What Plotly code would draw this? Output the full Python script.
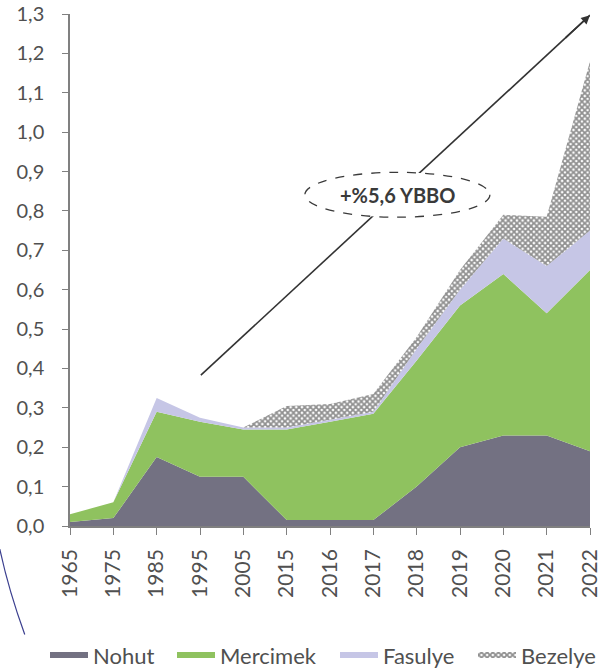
import plotly.graph_objects as go

years = ["1965", "1975", "1985", "1995", "2005", "2015", "2016", "2017", "2018", "2019", "2020", "2021", "2022"]
nohut = [0.01, 0.02, 0.175, 0.125, 0.125, 0.015, 0.015, 0.015, 0.10, 0.20, 0.23, 0.23, 0.19]
mercimek = [0.02, 0.04, 0.115, 0.14, 0.12, 0.23, 0.25, 0.27, 0.32, 0.36, 0.41, 0.31, 0.46]
fasulye = [0.0, 0.0, 0.035, 0.01, 0.005, 0.005, 0.005, 0.005, 0.03, 0.04, 0.09, 0.12, 0.10]
bezelye = [0.0, 0.0, 0.0, 0.0, 0.0, 0.055, 0.04, 0.045, 0.03, 0.05, 0.06, 0.125, 0.43]
y_ticks = [0.0, 0.1, 0.2, 0.3, 0.4, 0.5, 0.6, 0.7, 0.8, 0.9, 1.0, 1.1, 1.2, 1.3]
cagr_label = "+%5,6 YBBO"

FONT = "Lato"
TXT = "#505050"
AX = "#808080"

fig = go.Figure()
fig.add_trace(go.Scatter(x=years, y=nohut, name="Nohut", stackgroup="s", mode="none",
                         fillcolor="#737182", legend="legend"))
fig.add_trace(go.Scatter(x=years, y=mercimek, name="Mercimek", stackgroup="s", mode="none",
                         fillcolor="#8fc25f", legend="legend2"))
fig.add_trace(go.Scatter(x=years, y=fasulye, name="Fasulye", stackgroup="s", mode="none",
                         fillcolor="#c6c6e6", legend="legend3"))
fig.add_trace(go.Scatter(x=years, y=bezelye, name="Bezelye", stackgroup="s", mode="none",
                         fillcolor="white", legend="legend4",
                         fillpattern=dict(shape="x", fgcolor="#222222", bgcolor="white",
                                          size=4, solidity=0.7)))

# trend arrow (line as shape so the ellipse can sit on top of it)
tail = (3.02, 0.383)
head = (12.0, 1.297)
fig.add_shape(type="line", xref="x", yref="y", x0=tail[0], y0=tail[1], x1=head[0], y1=head[1],
              line=dict(color="#333333", width=1.6), layer="above")
fig.add_shape(type="circle", xref="x", yref="y", x0=5.42, x1=9.69, y0=0.784, y1=0.898,
              line=dict(color="#3a3a3a", width=1.3, dash="dash"), fillcolor="white", layer="above")
slope = (head[1] - tail[1]) / (head[0] - tail[0])
fig.add_annotation(x=head[0], y=head[1], ax=head[0] - 0.6, ay=head[1] - 0.6 * slope,
                   xref="x", yref="y", axref="x", ayref="y",
                   text="", showarrow=True, arrowhead=2, arrowsize=1.1, arrowwidth=1.6,
                   arrowcolor="#333333")
fig.add_annotation(x=7.55, y=0.841, xref="x", yref="y", text="<b>" + cagr_label + "</b>",
                   showarrow=False, font=dict(family=FONT, size=20, color="#3a3a3a"))

# stray curve at bottom-left
fig.add_shape(type="path", xref="paper", yref="paper",
              path="M -0.135 -0.045 Q -0.118 -0.125 -0.087 -0.212",
              line=dict(color="#3b3f8f", width=1.2))


def leg(xpx):
    return dict(orientation="h", xref="container", yref="container",
                x=xpx / 600, xanchor="left", y=0.025, yanchor="middle",
                font=dict(family=FONT, size=22, color=TXT), itemwidth=38,
                bgcolor="rgba(0,0,0,0)")


fig.update_layout(
    width=600, height=672,
    margin=dict(l=70, r=10, t=14, b=146),
    paper_bgcolor="white", plot_bgcolor="white",
    separators=",.",
    font=dict(family=FONT, size=20, color=TXT),
    showlegend=True,
    legend=leg(45), legend2=leg(172), legend3=leg(335), legend4=leg(473),
    xaxis=dict(type="category", range=[0, 12], showgrid=False, showline=True,
               linecolor=AX, linewidth=1.5, ticks="outside", ticklen=7,
               tickcolor=AX, tickangle=-90, automargin=False, ticklabelstandoff=6,
               tickfont=dict(family=FONT, size=21, color=TXT)),
    yaxis=dict(range=[0, 1.3], tickvals=y_ticks, tickformat=".1f", showgrid=False,
               showline=True, linecolor=AX, linewidth=1.5, ticks="outside",
               ticklen=6, tickcolor=AX, zeroline=False, automargin=False,
               ticklabelstandoff=14,
               tickfont=dict(family=FONT, size=20, color=TXT)),
)

fig.write_html("out.html", config={"displayModeBar": False},
               post_script="document.body.style.margin='0px';")
